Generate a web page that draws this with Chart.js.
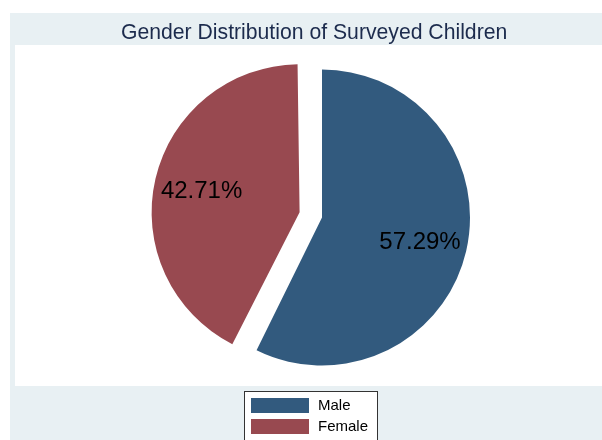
<!DOCTYPE html>
<html>
<head>
<meta charset="utf-8">
<script src="https://cdn.jsdelivr.net/npm/chart.js@4/dist/chart.umd.min.js"></script>
<style>
  body { margin: 0; background: #fff; }
  canvas { display: block; }
</style>
</head>
<body>
<canvas id="pie" width="602" height="440"></canvas>
<script>
const labels = ['Male', 'Female'];
const shares = [57.29, 42.71];
const colors = ['#325a7e', '#984950'];
const offsets = [0, 92];
const pieRadius = 148;

// backgrounds (outer band + white plot region)
const panelPlugin = {
    id: 'panels',
    beforeDraw(chart) {
        const ctx = chart.ctx;
        ctx.save();
        ctx.fillStyle = '#fff';
        ctx.fillRect(0, 0, chart.width, chart.height);
        ctx.fillStyle = '#e8f0f3';
        ctx.fillRect(10, 13, chart.width - 10, chart.height - 13);
        ctx.fillStyle = '#fff';
        ctx.fillRect(15, 45, chart.width - 15, 341);
        ctx.restore();
    }
};

// chart.js grows an offset slice a bit, shrink it back so every slice has the same radius
const keepRadius = {
    id: 'keepRadius',
    afterDatasetUpdate(chart, args) {
        const meta = chart.getDatasetMeta(args.index);
        meta.data.forEach((arc, i) => {
            const off = (offsets[i] || 0) / 4;
            const fix = 1 - Math.sin(Math.min(Math.PI, arc.circumference));
            arc.outerRadius = pieRadius - off * fix;
        });
    }
};

// percent labels inside slices
const sliceLabels = {
    id: 'sliceLabels',
    afterDatasetsDraw(chart) {
        const ctx = chart.ctx;
        const meta = chart.getDatasetMeta(0);
        ctx.save();
        ctx.font = '24px "Liberation Sans", Arial, sans-serif';
        ctx.fillStyle = '#000';
        ctx.textAlign = 'center';
        ctx.textBaseline = 'alphabetic';
        meta.data.forEach((arc, i) => {
            const mid = (arc.startAngle + arc.endAngle) / 2;
            const r = (offsets[i] || 0) / 4 + pieRadius * 0.68;
            // baseline set so the digits sit centred on the point
            ctx.fillText(shares[i].toFixed(2) + '%', arc.x + Math.cos(mid) * r, arc.y + Math.sin(mid) * r + 8.6);
        });
        ctx.restore();
    }
};

// boxed legend at the bottom
const boxLegend = {
    id: 'boxLegend',
    afterDraw(chart) {
        const ctx = chart.ctx;
        ctx.save();
        ctx.fillStyle = '#fff';
        ctx.fillRect(244, 391, 133, 60);
        ctx.strokeStyle = '#333';
        ctx.lineWidth = 1;
        ctx.strokeRect(244.5, 391.5, 133, 60);
        ctx.font = '15px "Liberation Sans", Arial, sans-serif';
        ctx.textBaseline = 'middle';
        labels.forEach((lab, i) => {
            const y = 398 + i * 21;
            ctx.fillStyle = colors[i];
            ctx.fillRect(251, y, 58, 15);
            ctx.fillStyle = '#000';
            ctx.fillText(lab, 318, y + 8);
        });
        ctx.restore();
    }
};

new Chart(document.getElementById('pie'), {
    type: 'pie',
    data: {
        labels: labels,
        datasets: [{
            data: shares,
            backgroundColor: colors,
            borderWidth: 0,
            offset: offsets
        }]
    },
    options: {
        responsive: false,
        animation: false,
        radius: pieRadius,
        layout: { padding: { left: 121, right: 79, top: 0, bottom: 50.6 } },
        plugins: {
            legend: { display: false },
            tooltip: { enabled: false },
            title: {
                display: true,
                text: 'Gender Distribution of Surveyed Children',
                align: 'start',
                color: '#1c2b4d',
                font: { family: '"Liberation Sans", Arial, sans-serif', size: 21.2, weight: 'normal' },
                padding: { top: 20.3, bottom: 0 }
            }
        }
    },
    plugins: [panelPlugin, keepRadius, sliceLabels, boxLegend]
});
</script>
</body>
</html>
